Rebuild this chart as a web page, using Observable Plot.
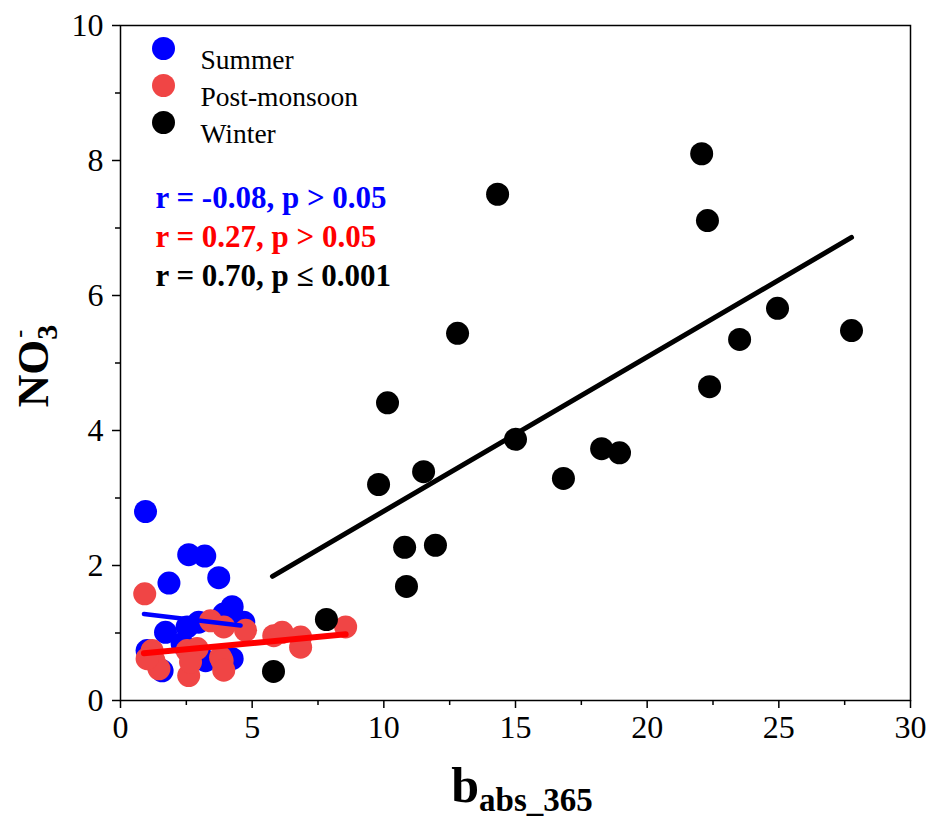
<!DOCTYPE html>
<html>
<head>
<meta charset="utf-8">
<script src="https://cdn.jsdelivr.net/npm/d3@7"></script>
<script src="https://cdn.jsdelivr.net/npm/@observablehq/plot@0.6"></script>
<style>
  html, body { margin: 0; padding: 0; background: #fff; }
  #chart { width: 936px; height: 822px; }
  #chart svg text { font-family: "Liberation Serif", "Times New Roman", serif; }
</style>
</head>
<body>
<div id="chart"></div>
<script>
// Seasonal samples: b_abs_365 (x) against NO3- (y)
const summerX = [0.95, 2.59, 3.20, 1.84, 3.73, 4.24, 3.92, 4.68, 1.71, 2.53, 2.97, 1.01, 3.23, 4.24, 1.58, 2.34];
const summerY = [2.80, 2.16, 2.14, 1.74, 1.82, 1.39, 1.28, 1.16, 1.01, 1.09, 1.16, 0.74, 0.59, 0.62, 0.44, 0.84];

const postX = [0.92, 3.42, 3.92, 4.75, 5.82, 6.14, 6.84, 6.84, 8.55, 1.20, 1.27, 1.46, 2.53, 2.91, 2.59, 2.66, 3.80, 3.86, 3.92, 1.01];
const postY = [1.58, 1.18, 1.09, 1.04, 0.96, 1.01, 0.94, 0.79, 1.09, 0.74, 0.59, 0.47, 0.74, 0.77, 0.37, 0.57, 0.64, 0.59, 0.45, 0.62];

const winterX = [22.07, 22.29, 14.32, 12.80, 24.95, 27.76, 23.51, 22.37, 10.14, 15.00, 11.51, 9.80, 16.82, 18.27, 18.95, 10.79, 11.96, 10.86, 7.82, 5.81];
const winterY = [8.10, 7.11, 7.50, 5.44, 5.81, 5.48, 5.35, 4.65, 4.41, 3.87, 3.39, 3.20, 3.29, 3.73, 3.67, 2.27, 2.30, 1.69, 1.20, 0.43];

// Least-squares fit lines (end points) for each season
const summerFitX = [0.89, 4.56], summerFitY = [1.28, 1.11];
const postFitX = [0.89, 8.55], postFitY = [0.70, 0.98];
const winterFitX = [5.77, 27.76], winterFitY = [1.84, 6.86];

const seasons = ["Summer", "Post-monsoon", "Winter"];
const dotColors = ["#0000ff", "#f04545", "#000000"];
const statLabels = ["r = -0.08, p > 0.05", "r = 0.27, p > 0.05", "r = 0.70, p \u2264 0.001"];
const statColors = ["#0000ff", "#ff0000", "#000000"];

const xMajor = [0, 5, 10, 15, 20, 25, 30];
const xMinor = [2.5, 7.5, 12.5, 17.5, 22.5, 27.5];
const yMajor = [0, 2, 4, 6, 8, 10];
const yMinor = [1, 3, 5, 7, 9];

const toPoints = (xs, ys) => xs.map((x, i) => ({x, y: ys[i]}));
const summer = toPoints(summerX, summerY);
const post = toPoints(postX, postY);
const winter = toPoints(winterX, winterY);

const R = 11.5;
const serif = "Liberation Serif";

const legendMarks = seasons.flatMap((s, i) => [
  Plot.dot([s], {frameAnchor: "top-left", dx: 43, dy: 23 + i * 37, r: R, fill: dotColors[i]}),
  Plot.text([s], {frameAnchor: "top-left", dx: 80, dy: 24 + i * 37, text: d => d, textAnchor: "start", fontSize: 27.5, fontFamily: serif, fill: "black"})
]);

const statMarks = statLabels.map((t, i) =>
  Plot.text([t], {frameAnchor: "top-left", dx: 35, dy: 160 + i * 39, text: d => d, textAnchor: "start", fontSize: 31, fontWeight: "bold", fontFamily: serif, fill: statColors[i]})
);

const chart = Plot.plot({
  width: 936,
  height: 822,
  marginLeft: 120,
  marginRight: 26,
  marginTop: 25,
  marginBottom: 122,
  style: {fontFamily: serif, fontSize: "32px", color: "black", background: "white"},
  x: {domain: [0, 30]},
  y: {domain: [0, 10]},
  marks: [
    Plot.axisX({ticks: xMajor, tickSize: 8, tickPadding: 7, label: null, fontSize: 32, fontFamily: serif, fontVariant: "normal", strokeWidth: 1.5}),
    Plot.axisX({ticks: xMinor, tickSize: 5, tickFormat: () => "", label: null, strokeWidth: 1.5}),
    Plot.axisY({ticks: yMajor, tickSize: 8, tickPadding: 9, label: null, fontSize: 32, fontFamily: serif, fontVariant: "normal", strokeWidth: 1.5}),
    Plot.axisY({ticks: yMinor, tickSize: 5, tickFormat: () => "", label: null, strokeWidth: 1.5}),
    Plot.dot(summer, {x: "x", y: "y", r: R, fill: dotColors[0]}),
    Plot.dot(post, {x: "x", y: "y", r: R, fill: dotColors[1]}),
    Plot.dot(winter, {x: "x", y: "y", r: R, fill: dotColors[2]}),
    Plot.line(toPoints(summerFitX, summerFitY), {x: "x", y: "y", stroke: "#0000ff", strokeWidth: 4.5, strokeLinecap: "round"}),
    Plot.line(toPoints(postFitX, postFitY), {x: "x", y: "y", stroke: "#ff0000", strokeWidth: 6, strokeLinecap: "round"}),
    Plot.line(toPoints(winterFitX, winterFitY), {x: "x", y: "y", stroke: "#000000", strokeWidth: 5, strokeLinecap: "round"}),
    Plot.frame({stroke: "black", strokeWidth: 1.5}),
    ...legendMarks,
    ...statMarks
  ]
});

document.getElementById("chart").appendChild(chart);

// Axis titles with sub/superscripts
const svg = d3.select(chart);
const yTitle = svg.append("text")
  .attr("transform", "translate(48,366) rotate(-90)")
  .attr("text-anchor", "middle")
  .attr("font-family", serif)
  .attr("font-weight", "bold")
  .attr("font-size", 45)
  .attr("fill", "black");
yTitle.append("tspan").text("NO");
yTitle.append("tspan").attr("font-size", 30).attr("dy", 9).text("3");
yTitle.append("tspan").attr("font-size", 24).attr("dx", -13).attr("dy", -30).text("-");

const xTitle = svg.append("text")
  .attr("x", 522)
  .attr("y", 802)
  .attr("text-anchor", "middle")
  .attr("font-family", serif)
  .attr("font-weight", "bold")
  .attr("font-size", 50)
  .attr("fill", "black");
xTitle.append("tspan").text("b");
xTitle.append("tspan").attr("font-size", 33).attr("dy", 9).text("abs_365");
</script>
</body>
</html>
